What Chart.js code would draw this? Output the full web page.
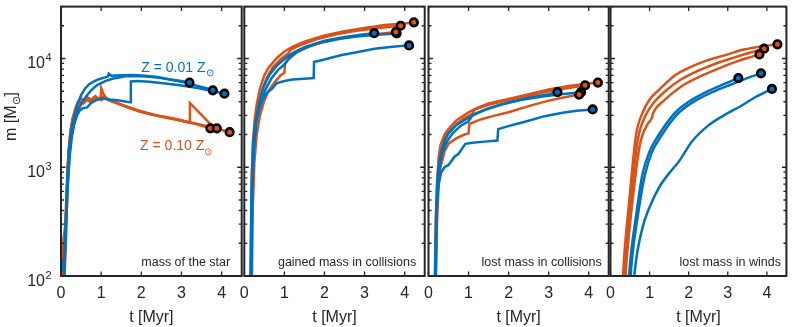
<!DOCTYPE html>
<html>
<head>
<meta charset="utf-8">
<script src="https://cdn.jsdelivr.net/npm/chart.js@4.4.1/dist/chart.umd.min.js"></script>
<style>
    html, body { margin: 0; padding: 0; background: #fff; }
    #wrap { position: relative; width: 793px; height: 327px; }
    #wrap canvas { position: absolute; left: 0; top: 0; }
</style>
</head>
<body>
<div id="wrap">
    <canvas id="p1" width="793" height="327"></canvas>
    <canvas id="p2" width="793" height="327"></canvas>
    <canvas id="p3" width="793" height="327"></canvas>
    <canvas id="p4" width="793" height="327"></canvas>
</div>
<script>
// axis ranges and ticks
const tTicks = [0, 1, 2, 3, 4];
const mDecades = [100, 1000, 10000];
const tRange = [0, 4.5];
const mRange = [100, 30000];

// mass of the star, [t Myr, m Msun]
const starZ001a = [[0.02,130],[0.09,145],[0.13,400],[0.17,1000],[0.21,1600],[0.26,2200],[0.32,2800],[0.4,3700],[0.5,4600],[0.6,5300],[0.7,5800],[0.8,6100],[0.9,6350],[1.0,6550],[1.1,6700],[1.17,6850],[1.19,7250],[1.25,6950],[1.5,7000],[1.8,7050],[2.1,6950],[2.4,6750],[2.7,6450],[3.0,6200],[3.2,6000]];
const starZ001b = [[0.05,110],[0.1,180],[0.15,650],[0.2,1400],[0.28,2300],[0.36,2950],[0.45,3500],[0.55,4100],[0.65,4600],[0.75,5100],[0.9,5700],[1.1,6200],[1.3,6550],[1.6,6850],[1.9,6900],[2.2,6800],[2.5,6600],[2.8,6300],[3.1,6000],[3.4,5600],[3.6,5350],[3.78,5100]];
const starZ001c = [[0.07,80],[0.12,250],[0.17,700],[0.22,1300],[0.27,1900],[0.33,2500],[0.4,3000],[0.47,3350],[0.55,3500],[0.65,3550],[0.75,3900],[0.85,4100],[1.0,4300],[1.2,4200],[1.45,4100],[1.72,3950],[1.74,6150],[1.9,6200],[2.2,6100],[2.6,5900],[3.0,5650],[3.4,5350],[3.8,5000],[4.07,4750]];
const starZ010a = [[0.04,90],[0.06,220],[0.1,280],[0.13,500],[0.17,1100],[0.22,1900],[0.28,2700],[0.35,3400],[0.42,4000],[0.5,4300],[0.57,4050],[0.65,4400],[0.75,4150],[0.85,4500],[0.95,4250],[1.05,4450],[1.2,4100],[1.35,3950],[1.5,3750],[1.7,3550],[1.85,3400],[2.0,3250],[2.2,3100],[2.4,2980],[2.6,2870],[2.8,2780],[3.0,2680],[3.2,2580],[3.4,2470],[3.55,2380],[3.72,2280]];
const starZ010b = [[0.05,80],[0.1,160],[0.14,550],[0.19,1400],[0.24,2200],[0.3,2900],[0.38,3600],[0.47,4000],[0.55,3850],[0.63,4200],[0.72,4000],[0.82,4300],[0.92,4200],[0.99,4400],[1.0,5350],[1.06,4700],[1.12,4350],[1.25,4100],[1.45,3850],[1.65,3600],[1.9,3350],[2.15,3150],[2.4,3000],[2.65,2880],[2.9,2760],[3.15,2620],[3.4,2500],[3.65,2380],[3.88,2280]];
const starZ010c = [[0.08,80],[0.12,200],[0.16,600],[0.21,1300],[0.27,2200],[0.34,3000],[0.42,3500],[0.5,3800],[0.6,4000],[0.7,4300],[0.8,4050],[0.9,4350],[1.0,4150],[1.1,4350],[1.25,4050],[1.45,3800],[1.7,3500],[1.95,3250],[2.2,3080],[2.5,2920],[2.75,2800],[3.0,2680],[3.19,2580],[3.21,3900],[3.8,2330],[4.0,2200],[4.2,2100]];

// gained mass in collisions
const gainZ001a = [[0.16,60],[0.19,500],[0.22,1300],[0.28,2500],[0.36,3800],[0.48,5500],[0.63,7100],[0.8,8500],[1.0,9900],[1.2,11200],[1.5,12700],[2.0,14600],[2.5,15800],[3.0,16700],[3.24,17100]];
const gainZ001b = [[0.17,60],[0.2,600],[0.24,1500],[0.3,2600],[0.4,3800],[0.53,5200],[0.68,6600],[0.85,7900],[1.0,8800],[1.15,10500],[1.4,12000],[1.8,13700],[2.3,15000],[2.8,15900],[3.3,16500],[3.8,17000]];
const gainZ001c = [[0.15,60],[0.18,700],[0.22,1700],[0.28,2600],[0.36,3400],[0.46,4200],[0.56,4800],[0.7,5300],[0.8,5900],[1.0,6200],[1.2,6400],[1.5,6500],[1.73,6600],[1.74,9300],[2.0,9800],[2.4,10700],[2.8,11400],[3.25,12300],[3.7,12800],[4.11,13200]];
const gainZ010a = [[0.15,60],[0.17,300],[0.19,900],[0.22,1800],[0.26,2800],[0.31,3800],[0.39,5300],[0.5,7000],[0.6,8200],[0.8,10000],[1.0,11600],[1.2,12800],[1.5,14300],[2.0,16300],[2.5,17800],[3.0,19100],[3.5,20300],[4.0,21000],[4.23,21500]];
const gainZ010b = [[0.17,60],[0.19,400],[0.22,1200],[0.27,2300],[0.34,3500],[0.44,5000],[0.55,6500],[0.7,8200],[0.9,9800],[1.1,11200],[1.15,12000],[1.4,13300],[1.8,15000],[2.3,16700],[2.8,18000],[3.3,19000],[3.6,19500],[3.9,20000]];
const gainZ010c = [[0.18,60],[0.21,400],[0.25,1100],[0.31,2000],[0.39,3000],[0.49,4000],[0.6,5000],[0.75,6000],[0.9,7000],[1.0,7400],[1.02,9000],[1.1,9800],[1.3,11300],[1.6,12800],[2.0,14200],[2.5,15500],[3.0,16400],[3.5,17100],[3.78,17500]];

// lost mass in collisions
const collZ001a = [[0.15,50],[0.19,400],[0.23,850],[0.3,1300],[0.4,1750],[0.5,2050],[0.7,2450],[1.0,2850],[1.2,3150],[1.5,3500],[2.0,3950],[2.5,4350],[3.0,4700],[3.22,4900]];
const collZ001b = [[0.17,50],[0.21,450],[0.26,900],[0.33,1300],[0.45,1700],[0.6,2050],[0.8,2400],[1.0,2650],[1.1,3000],[1.4,3350],[1.8,3750],[2.3,4150],[2.8,4450],[3.3,4700],[3.81,4900]];
const collZ001c = [[0.16,50],[0.2,400],[0.25,700],[0.32,900],[0.4,1000],[0.5,1050],[0.65,1250],[0.75,1330],[0.92,1640],[1.1,1680],[1.4,1720],[1.72,1760],[1.74,2240],[2.1,2450],[2.5,2680],[2.9,2950],[3.35,3170],[3.7,3300],[4.1,3400]];
const collZ010a = [[0.15,50],[0.18,300],[0.21,700],[0.25,1200],[0.3,1600],[0.4,2000],[0.5,2250],[0.7,2700],[1.0,3200],[1.2,3500],[1.5,3850],[2.0,4250],[2.5,4700],[3.0,5200],[3.5,5600],[4.0,5900],[4.23,6000]];
const collZ010b = [[0.16,50],[0.2,350],[0.24,800],[0.3,1300],[0.4,1800],[0.5,2100],[0.7,2500],[0.9,2850],[1.1,3100],[1.15,3400],[1.5,3750],[2.0,4150],[2.5,4550],[3.0,5000],[3.5,5350],[3.91,5660]];
const collZ010c = [[0.17,50],[0.21,300],[0.25,650],[0.3,1000],[0.4,1400],[0.5,1650],[0.7,1850],[0.9,2000],[1.0,2050],[1.02,2500],[1.3,2750],[1.6,2950],[2.0,3200],[2.5,3650],[3.0,4100],[3.4,4400],[3.76,4660]];

// lost mass in winds
const windZ001a = [[0.42,50],[0.5,130],[0.65,350],[0.82,870],[1.0,1400],[1.24,2000],[1.66,3200],[2.0,4000],[2.49,5000],[2.9,5800],[3.27,6600]];
const windZ001b = [[0.46,50],[0.54,130],[0.7,360],[0.88,850],[1.05,1350],[1.3,1950],[1.7,3050],[2.1,3950],[2.6,4900],[3.1,5800],[3.5,6600],[3.85,7300]];
const windZ001c = [[0.55,50],[0.62,110],[0.82,280],[1.0,430],[1.24,650],[1.5,880],[1.74,1120],[1.8,1200],[2.07,1700],[2.49,2400],[2.9,3000],[3.33,3640],[3.7,4400],[4.13,5250]];
const windZ010a = [[0.28,50],[0.35,150],[0.48,490],[0.65,1950],[0.82,3170],[1.0,4200],[1.24,5150],[1.66,7050],[2.0,8200],[2.49,9670],[3.0,10900],[3.33,11900],[3.8,12800],[4.27,13500]];
const windZ010b = [[0.3,50],[0.38,150],[0.52,500],[0.7,1800],[0.9,3000],[1.1,3900],[1.4,5000],[1.8,6400],[2.2,7600],[2.7,9000],[3.2,10300],[3.6,11400],[3.93,12300]];
const windZ010c = [[0.33,50],[0.42,150],[0.56,480],[0.75,1600],[0.95,2500],[1.05,2800],[1.1,3200],[1.4,4200],[1.8,5500],[2.2,6600],[2.7,7900],[3.2,9300],[3.5,10100],[3.81,10900]];

const BLUE = '#0072BD';
const ORANGE = '#D95319';
const AXIS = '#262626';
const FONT = '"Liberation Sans", Arial, Helvetica, sans-serif';

const panels = [
    { id: 'p1', left: 61, right: 241.7, note: 'mass of the star', noteGap: 11.5, yLabels: true,
      blue: [starZ001a, starZ001b, starZ001c], orange: [starZ010a, starZ010b, starZ010c] },
    { id: 'p2', left: 244.3, right: 424.7, note: 'gained mass in collisions', noteGap: 8.5,
      blue: [gainZ001a, gainZ001b, gainZ001c], orange: [gainZ010a, gainZ010b, gainZ010c] },
    { id: 'p3', left: 428.5, right: 608.7, note: 'lost mass in collisions', noteGap: 7,
      blue: [collZ001a, collZ001b, collZ001c], orange: [collZ010a, collZ010b, collZ010c] },
    { id: 'p4', left: 610.5, right: 790.5, note: 'lost mass in winds', noteGap: 5.5, smooth: true,
      blue: [windZ001a, windZ001b, windZ001c], orange: [windZ010a, windZ010b, windZ010c] }
];

// text with a lowered small subscript, MATLAB style
function drawWithSub(ctx, x, y, main, sub, after, size) {
    ctx.font = size + 'px ' + FONT;
    ctx.fillText(main, x, y);
    let w = ctx.measureText(main).width;
    ctx.font = Math.round(size * 0.7) + 'px ' + FONT;
    ctx.fillText(sub, x + w, y + size * 0.3);
    w += ctx.measureText(sub).width;
    if (after) {
        ctx.font = size + 'px ' + FONT;
        ctx.fillText(after, x + w, y);
    }
}

const framePlugin = {
    id: 'frame',
    afterDraw(chart, args, opts) {
        const { ctx, chartArea: a, scales: { x, y } } = chart;
        ctx.save();
        ctx.strokeStyle = AXIS;
        ctx.lineWidth = 1.3;
        ctx.beginPath();
        tTicks.forEach(v => {
            const px = x.getPixelForValue(v);
            ctx.moveTo(px, a.bottom); ctx.lineTo(px, a.bottom - 4.5);
            ctx.moveTo(px, a.top); ctx.lineTo(px, a.top + 4.5);
        });
        mDecades.forEach(d => {
            for (let k = 1; k <= 9; k++) {
                const v = k * d;
                if (v > mRange[1]) break;
                const py = y.getPixelForValue(v);
                const len = k === 1 ? 4.5 : 3;
                ctx.moveTo(a.left, py); ctx.lineTo(a.left + len, py);
                ctx.moveTo(a.right, py); ctx.lineTo(a.right - len, py);
            }
        });
        ctx.stroke();
        ctx.lineWidth = 2;
        ctx.strokeRect(a.left, a.top, a.width, a.height);

        ctx.fillStyle = AXIS;
        ctx.textBaseline = 'alphabetic';
        // bottom-right panel note
        ctx.font = '12.5px ' + FONT;
        ctx.textAlign = 'right';
        ctx.fillText(opts.note, a.right - opts.noteGap, a.bottom - 10.5);

        if (opts.yLabels) {
            // 10^n tick labels
            mDecades.forEach(d => {
                const py = y.getPixelForValue(d);
                ctx.font = '16px ' + FONT;
                ctx.textAlign = 'right';
                ctx.fillText('10', a.left - 16, py + 10);
                ctx.font = '11px ' + FONT;
                ctx.textAlign = 'left';
                ctx.fillText(String(Math.round(Math.log10(d))), a.left - 15.5, py + 3);
            });
            // y title
            ctx.save();
            ctx.translate(15.5, 141);
            ctx.rotate(-Math.PI / 2);
            ctx.textAlign = 'left';
            drawWithSub(ctx, 0, 0, 'm [M', '\u2299', ']', 16);
            ctx.restore();
            // metallicity labels
            ctx.textAlign = 'left';
            ctx.fillStyle = BLUE;
            drawWithSub(ctx, x.getPixelForValue(2.0), y.getPixelForValue(7550), 'Z = 0.01 Z', '\u2299', '', 14);
            ctx.fillStyle = ORANGE;
            drawWithSub(ctx, x.getPixelForValue(1.97), y.getPixelForValue(1430), 'Z = 0.10 Z', '\u2299', '', 14);
        }
        ctx.restore();
    }
};

function lineSet(pts, color, smooth) {
    return {
        data: pts.map(p => ({ x: p[0], y: p[1] })),
        borderColor: color,
        borderWidth: 2.5,
        pointRadius: 0,
        fill: false,
        tension: 0,
        cubicInterpolationMode: smooth ? 'monotone' : 'default',
        clip: 0
    };
}

panels.forEach(p => {
    const lines = p.blue.concat(p.orange);
    const ends = lines.map(l => ({ x: l[l.length - 1][0], y: l[l.length - 1][1] }));
    const endColors = p.blue.map(() => BLUE).concat(p.orange.map(() => ORANGE));

    const datasets = [{
        data: ends,
        showLine: false,
        pointRadius: 3.8,
        pointBorderWidth: 2.6,
        pointBorderColor: '#000',
        pointBackgroundColor: endColors,
        clip: false
    }];
    p.blue.forEach(l => datasets.push(lineSet(l, BLUE, p.smooth)));
    p.orange.forEach(l => datasets.push(lineSet(l, ORANGE, p.smooth)));

    new Chart(document.getElementById(p.id), {
        type: 'line',
        data: { datasets: datasets },
        options: {
            responsive: false,
            animation: false,
            events: [],
            layout: { padding: { left: p.left, right: 793 - p.right, top: 2.5, bottom: 0 } },
            plugins: {
                legend: { display: false },
                tooltip: { enabled: false },
                frame: { note: p.note, noteGap: p.noteGap, yLabels: !!p.yLabels }
            },
            scales: {
                x: {
                    type: 'linear',
                    min: tRange[0],
                    max: tRange[1],
                    afterBuildTicks: s => { s.ticks = tTicks.map(v => ({ value: v })); },
                    afterFit: s => { s.height = 51; },
                    grid: { display: false, drawTicks: false },
                    border: { display: false },
                    ticks: { color: AXIS, font: { family: FONT, size: 16 }, padding: 8, maxRotation: 0 },
                    title: { display: true, text: 't [Myr]', color: AXIS, font: { family: FONT, size: 16 }, padding: 0 }
                },
                y: {
                    type: 'logarithmic',
                    min: mRange[0],
                    max: mRange[1],
                    display: false
                }
            }
        },
        plugins: [framePlugin]
    });
});
</script>
</body>
</html>
